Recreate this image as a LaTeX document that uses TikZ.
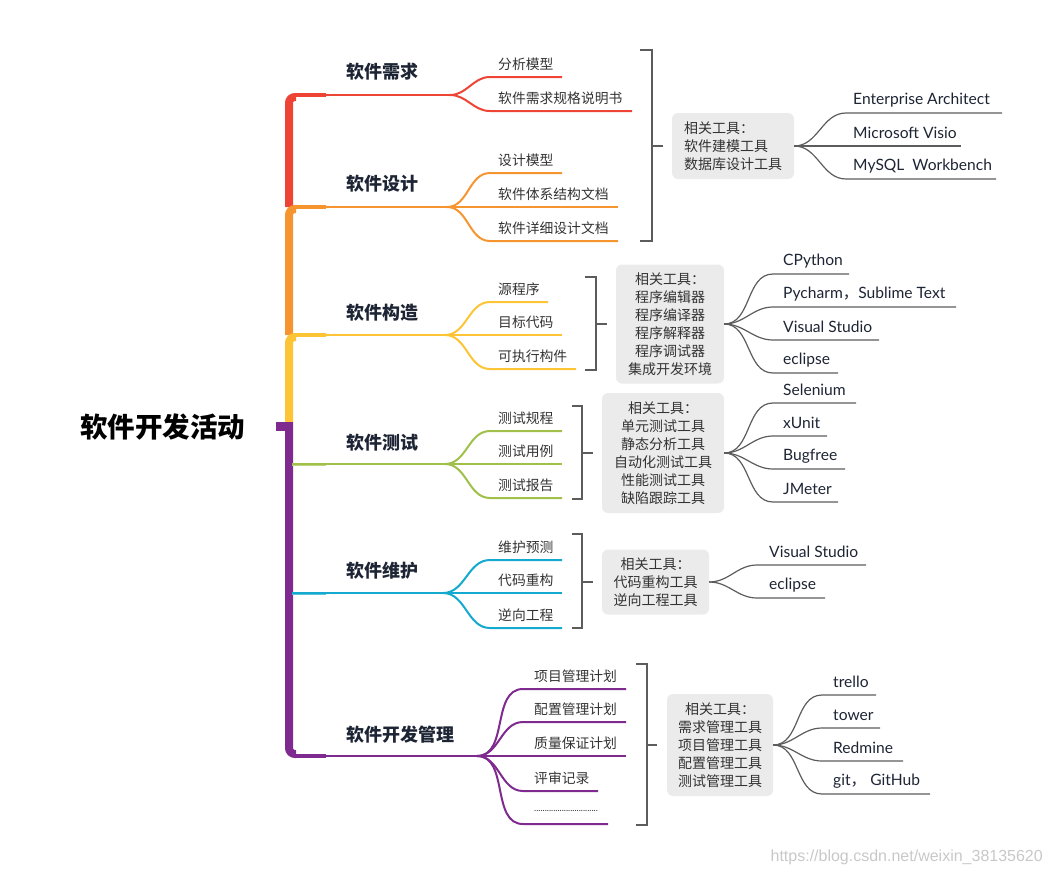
\documentclass[tikz,border=0pt]{standalone}
\usepackage{fontspec}
\setmainfont{Lato}
\newfontfamily\cjk{Noto Sans CJK SC}
\newfontfamily\lat{Lato}
\newfontfamily\wmf{Liberation Sans}
\definecolor{cRed}{HTML}{EE4436}
\definecolor{cOra}{HTML}{F6952F}
\definecolor{cYel}{HTML}{FDC536}
\definecolor{cGrn}{HTML}{A0C04A}
\definecolor{cCya}{HTML}{14A9CF}
\definecolor{cPur}{HTML}{7F2A8F}
\definecolor{cGray}{HTML}{5C5C5C}
\definecolor{cBox}{HTML}{EBEBEB}
\definecolor{cNavy}{HTML}{1D2434}
\definecolor{cTxt}{HTML}{333333}
\definecolor{cWm}{HTML}{C8C8C8}
% leaf: name, line style, fork, x line start, x text, x line end, y line, text, text style
\newcommand{\leaf}[9]{%
  \coordinate (#1s) at (#4,#7);
  \coordinate (#1e) at (#6,#7);
  \node[#9, anchor=west] (#1) at (#5,#7-13) {#8};
  \draw[#2] (#3) to[out=0,in=180] (#1s) -- (#1e);
}
\begin{document}
\begin{tikzpicture}[x=1pt,y=-1pt,
  blabel/.style={font=\cjk\bfseries\fontsize{18}{20}\selectfont, text=cNavy, inner sep=0pt, anchor=west},
  rootl/.style={font=\cjk\bfseries\fontsize{27.5}{30}\selectfont, text=black, inner sep=0pt},
  sub/.style={font=\cjk\fontsize{13.8}{16}\selectfont, text=cTxt, inner sep=0pt},
  tool/.style={font=\lat\fontsize{15.6}{17}\selectfont, text=cNavy, inner sep=0pt},
  tbox/.style={fill=cBox, rounded corners=6pt, font=\cjk\fontsize{14}{18}\selectfont, text=cTxt, inner sep=0pt, align=center},
  tline/.style={cGray, line width=1.2pt},
  brk/.style={cGray, line width=2pt},
  trunk/.style={line width=8pt, rounded corners=6pt},
  thick/.style={line width=4pt},
  rl/.style={cRed, line width=2pt},
  ol/.style={cOra, line width=2pt},
  yl/.style={cYel, line width=2pt},
  gl/.style={cGrn, line width=2pt},
  cl/.style={cCya, line width=2pt},
  pl/.style={cPur, line width=2pt},
]
\useasboundingbox (0,0) rectangle (1052,876);

% root
\node[rootl] (root) at (162.5,427) {软件开发活动};

% trunk
\draw[cRed, trunk] (289,207) -- (289,97) -- (296,97);
\draw[cRed, thick] (294,95) -- (326,95);
\draw[cOra, trunk] (289,335) -- (289,209) -- (296,209);
\draw[cOra, thick] (294,207) -- (326,207);
\draw[cYel, trunk] (289,422) -- (289,337) -- (296,337);
\draw[cYel, thick] (294,335) -- (326,335);
\fill[cPur] (276,422) rectangle (293,431);
\draw[cPur, trunk] (289,422) -- (289,754) -- (296,754);
\draw[cPur, thick] (294,756) -- (326,756);
\draw[cGrn!70, line width=3pt] (292,464) -- (326,464);
\draw[cCya!70, line width=3pt] (292,593) -- (326,593);

% branch points
\coordinate (rb) at (326,95);  \coordinate (rf) at (450,95);
\coordinate (ob) at (326,207); \coordinate (of) at (447,207);
\coordinate (yb) at (326,335); \coordinate (yf) at (445,335);
\coordinate (gb) at (292,464); \coordinate (gf) at (445,464);
\coordinate (cb) at (292,593); \coordinate (cf) at (443,593);
\coordinate (pb) at (326,756); \coordinate (pf) at (477,756);
\draw[rl] (rb) -- (rf);
\draw[ol] (ob) -- (of);
\draw[yl] (yb) -- (yf);
\draw[gl] (gb) -- (gf);
\draw[cl] (cb) -- (cf);
\draw[pl] (pb) -- (pf);

% branch labels
\node[blabel] (b1) at (346,72) {软件需求};
\node[blabel] (b2) at (346,184) {软件设计};
\node[blabel] (b3) at (346,313) {软件构造};
\node[blabel] (b4) at (346,443) {软件测试};
\node[blabel] (b5) at (346,571) {软件维护};
\node[blabel] (b6) at (346,735) {软件开发管理};

% leaves
\leaf{r1}{rl}{rf}{490}{498}{562}{77}{分析模型}{sub}
\leaf{r2}{rl}{rf}{490}{498}{632}{111}{软件需求规格说明书}{sub}
\leaf{o1}{ol}{of}{490}{498}{562}{173}{设计模型}{sub}
\leaf{o2}{ol}{of}{490}{498}{618}{207}{软件体系结构文档}{sub}
\leaf{o3}{ol}{of}{490}{498}{618}{241}{软件详细设计文档}{sub}
\leaf{y1}{yl}{yf}{490}{498}{548}{302}{源程序}{sub}
\leaf{y2}{yl}{yf}{490}{498}{562}{335}{目标代码}{sub}
\leaf{y3}{yl}{yf}{490}{498}{576}{369}{可执行构件}{sub}
\leaf{g1}{gl}{gf}{490}{498}{562}{431}{测试规程}{sub}
\leaf{g2}{gl}{gf}{490}{498}{562}{464}{测试用例}{sub}
\leaf{g3}{gl}{gf}{490}{498}{562}{498}{测试报告}{sub}
\leaf{c1}{cl}{cf}{490}{498}{562}{560}{维护预测}{sub}
\leaf{c2}{cl}{cf}{490}{498}{562}{593}{代码重构}{sub}
\leaf{c3}{cl}{cf}{490}{498}{562}{628}{逆向工程}{sub}
\leaf{p1}{pl}{pf}{523}{534}{626}{689}{项目管理计划}{sub}
\leaf{p2}{pl}{pf}{523}{534}{626}{722}{配置管理计划}{sub}
\leaf{p3}{pl}{pf}{523}{534}{626}{756}{质量保证计划}{sub}
\leaf{p4}{pl}{pf}{523}{534}{598}{791}{评审记录}{sub}
\leaf{p5}{pl}{pf}{523}{534}{608}{824}{\lat\fontsize{9}{10}\selectfont ..............................}{sub}

% brackets
\draw[brk] (640,50) -- (652,50) -- (652,241) -- (640,241);
\draw[brk] (652,146) -- (663,146);
\draw[brk] (585,277) -- (596,277) -- (596,370) -- (585,370);
\draw[brk] (596,324) -- (607,324);
\draw[brk] (572,406) -- (582,406) -- (582,499) -- (572,499);
\draw[brk] (582,453) -- (593,453);
\draw[brk] (572,534) -- (582,534) -- (582,628) -- (572,628);
\draw[brk] (582,582) -- (593,582);
\draw[brk] (636,664) -- (647,664) -- (647,825) -- (636,825);
\draw[brk] (647,745) -- (657,745);

% tool boxes
\node[tbox, align=left, minimum width=122pt, minimum height=66pt] (t1) at (733,146) {相关工具：\\软件建模工具\\数据库设计工具};
\node[tbox, minimum width=108pt, minimum height=119pt] (t2) at (670,324) {相关工具：\\程序编辑器\\程序编译器\\程序解释器\\程序调试器\\集成开发环境};
\node[tbox, minimum width=122pt, minimum height=120pt] (t3) at (663,453) {相关工具：\\单元测试工具\\静态分析工具\\自动化测试工具\\性能测试工具\\缺陷跟踪工具};
\node[tbox, minimum width=107pt, minimum height=65pt] (t4) at (655.5,582) {相关工具：\\代码重构工具\\逆向工程工具};
\node[tbox, minimum width=106pt, minimum height=102pt] (t5) at (720,745) {相关工具：\\需求管理工具\\项目管理工具\\配置管理工具\\测试管理工具};

% tool leaves
\leaf{a1}{tline}{t1.east}{846}{853}{1002}{113}{Enterprise Architect}{tool}
\leaf{a2}{tline}{t1.east}{846}{853}{961}{146}{Microsoft Visio}{tool}
\leaf{a3}{tline}{t1.east}{846}{853}{996}{179}{MySQL\ \ Workbench}{tool}
\leaf{d1}{tline}{t2.east}{773}{783}{849}{274}{CPython}{tool}
\leaf{d2}{tline}{t2.east}{773}{783}{956}{307}{Pycharm{\cjk ，}Sublime Text}{tool}
\leaf{d3}{tline}{t2.east}{773}{783}{879}{340}{Visual Studio}{tool}
\leaf{d4}{tline}{t2.east}{773}{783}{838}{373}{eclipse}{tool}
\leaf{e1}{tline}{t3.east}{773}{783}{856}{403}{Selenium}{tool}
\leaf{e2}{tline}{t3.east}{773}{783}{827}{436}{xUnit}{tool}
\leaf{e3}{tline}{t3.east}{773}{783}{845}{469}{Bugfree}{tool}
\leaf{e4}{tline}{t3.east}{773}{783}{838}{502}{JMeter}{tool}
\leaf{f1}{tline}{t4.east}{757}{769}{866}{565}{Visual Studio}{tool}
\leaf{f2}{tline}{t4.east}{757}{769}{825}{598}{eclipse}{tool}
\leaf{h1}{tline}{t5.east}{822}{833}{876}{695}{trello}{tool}
\leaf{h2}{tline}{t5.east}{822}{833}{880}{728}{tower}{tool}
\leaf{h3}{tline}{t5.east}{822}{833}{903}{761}{Redmine}{tool}
\leaf{h4}{tline}{t5.east}{822}{833}{930}{794}{git{\cjk ，} GitHub}{tool}

% watermark
\node[font=\wmf\fontsize{16}{18}\selectfont, text=cWm, inner sep=0pt, anchor=east] (wmk) at (1043,857) {https://blog.csdn.net/weixin\_38135620};
\end{tikzpicture}
\end{document}
